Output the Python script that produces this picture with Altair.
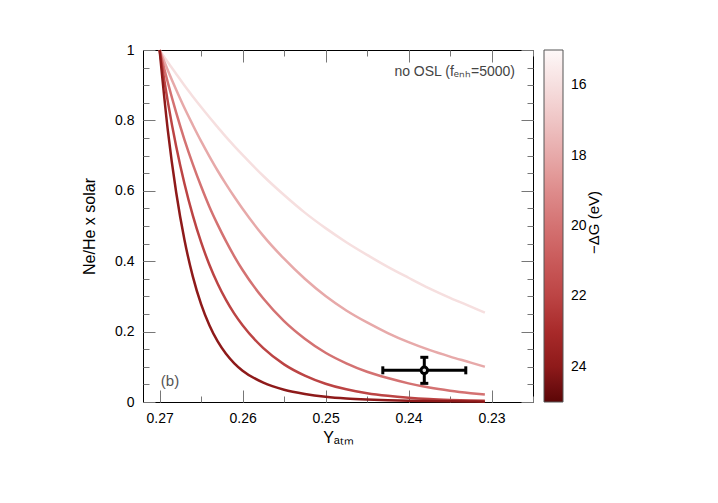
import altair as alt
import pandas as pd

# ---------------- data ----------------
y_atm = [0.2700, 0.2690, 0.2680, 0.2670, 0.2660, 0.2650, 0.2640, 0.2630, 0.2620, 0.2610,
         0.2600, 0.2575, 0.2550, 0.2525, 0.2500, 0.2475, 0.2450, 0.2425, 0.2400, 0.2375,
         0.2350, 0.2325, 0.2308]
minus_dG = [16, 18, 20, 22, 24]
ne_he_16 = [1.000, 0.965, 0.932, 0.899, 0.868, 0.838, 0.809, 0.781, 0.753, 0.727, 0.702,
            0.642, 0.588, 0.538, 0.494, 0.454, 0.418, 0.384, 0.353, 0.323, 0.296, 0.271, 0.254]
ne_he_18 = [1.000, 0.942, 0.887, 0.835, 0.787, 0.741, 0.698, 0.657, 0.619, 0.583, 0.549,
            0.472, 0.407, 0.350, 0.301, 0.260, 0.226, 0.196, 0.170, 0.148, 0.129, 0.112, 0.100]
ne_he_20 = [1.000, 0.907, 0.822, 0.745, 0.676, 0.613, 0.555, 0.504, 0.457, 0.414, 0.375,
            0.294, 0.230, 0.180, 0.140, 0.110, 0.086, 0.068, 0.053, 0.041, 0.032, 0.025, 0.021]
ne_he_22 = [1.000, 0.852, 0.726, 0.620, 0.530, 0.454, 0.390, 0.336, 0.290, 0.251, 0.218,
            0.153, 0.107, 0.075, 0.052, 0.036, 0.025, 0.0175, 0.0122, 0.0085, 0.006, 0.0042, 0.0033]
ne_he_24 = [1.000, 0.770, 0.595, 0.460, 0.357, 0.278, 0.218, 0.172, 0.137, 0.110, 0.089,
            0.055, 0.035, 0.023, 0.015, 0.010, 0.007, 0.005, 0.0035, 0.0025, 0.0018, 0.0013, 0.001]

obs_y_atm = [0.2381]
obs_y_err = [0.0050]
obs_ratio = [0.090]
obs_ratio_err = [0.037]

x_major = [0.23, 0.24, 0.25, 0.26, 0.27]
x_minor = [0.225, 0.23, 0.235, 0.24, 0.245, 0.25, 0.255, 0.26, 0.265, 0.27]
y_major = [0, 0.2, 0.4, 0.6, 0.8, 1.0]
y_minor = [round(0.05 * i, 2) for i in range(21)]

cbar_stops = [-25, -24, -23, -22, -21, -20, -19, -18, -17, -16, -15]
cbar_colors = ["#5c0606", "#8e1a1a", "#a82a2a", "#bc4444", "#c95a5a", "#d47272",
               "#de8c8c", "#e7a9a9", "#efc5c5", "#f6dfdf", "#fdf8f8"]

# ---------------- tables ----------------
series = [ne_he_16, ne_he_18, ne_he_20, ne_he_22, ne_he_24]
rows = []
for g, vals in zip(minus_dG, series):
    for xv, yv in zip(y_atm, vals):
        rows.append({"Y": xv, "R": yv, "dG": -g})
curves_df = pd.DataFrame(rows)

err_df = pd.DataFrame({
    "x": obs_y_atm, "y": obs_ratio,
    "xlo": [a - b for a, b in zip(obs_y_atm, obs_y_err)],
    "xhi": [a + b for a, b in zip(obs_y_atm, obs_y_err)],
    "ylo": [a - b for a, b in zip(obs_ratio, obs_ratio_err)],
    "yhi": [a + b for a, b in zip(obs_ratio, obs_ratio_err)],
})
capx_df = pd.DataFrame({"x": [err_df.xlo[0], err_df.xhi[0]], "y": [obs_ratio[0]] * 2})
capy_df = pd.DataFrame({"x": [obs_y_atm[0]] * 2, "y": [err_df.ylo[0], err_df.yhi[0]]})

notes_df = pd.DataFrame({"x": [0.22717], "y": [0.9375], "t": ["no OSL (fₑₙₕ=5000)"]})
panel_df = pd.DataFrame({"x": [0.26875], "y": [0.06], "t": ["(b)"]})

# ---------------- chart ----------------
W, H = 390, 352
XS = alt.Scale(domain=[0.272, 0.225], nice=False, zero=False)
YS = alt.Scale(domain=[0, 1], nice=False, zero=False)
TICK = "#777777"


def tick_axis(orient, values, size):
    off = -H if orient in ("top", "bottom") else -W
    return alt.Axis(orient=orient, offset=off, values=values, tickSize=size,
                    labels=False, domain=False, title=None, tickColor=TICK,
                    tickWidth=1, grid=False)


x_main = alt.Axis(orient="bottom", values=x_major, format=".2f", labelFontSize=14,
                  labelColor="black", ticks=False, domain=False, labelPadding=9,
                  title="Yₐₜₘ", titleFontSize=16, titleFontWeight="normal",
                  titleColor="black", titlePadding=4, grid=False)
y_main = alt.Axis(orient="left", values=y_major, format="~g", labelFontSize=14,
                  labelColor="black", ticks=False, domain=False, labelPadding=9,
                  title="Ne/He x solar", titleFontSize=16, titleFontWeight="normal",
                  titleColor="black", titlePadding=17, grid=False)
# colour-bar title, carried by a label-less right-hand axis
cbar_title_axis = alt.Axis(orient="right", offset=0, labels=False, ticks=False,
                           domain=False, grid=False, title="−ΔG (eV)",
                           titleAngle=270, titleX=60, titleY=172, titleAlign="center",
                           titleBaseline="middle", titleFontSize=15,
                           titleFontWeight="normal", titleColor="black")

legend = alt.Legend(orient="none", legendX=401, legendY=0, direction="vertical",
                    gradientLength=H, gradientThickness=19, values=[-16, -18, -20, -22, -24],
                    labelExpr="-datum.value", labelFontSize=14, labelColor="black",
                    labelOffset=8, labelOverlap=False, title=None, padding=0,
                    gradientStrokeColor="#555555", gradientStrokeWidth=1)

curves = alt.Chart(curves_df).mark_line(strokeWidth=2.5, interpolate="monotone").encode(
    x=alt.X("Y:Q", scale=XS, axis=x_main),
    y=alt.Y("R:Q", scale=YS, axis=y_main),
    color=alt.Color("dG:Q", scale=alt.Scale(domain=cbar_stops, range=cbar_colors),
                    legend=legend),
    detail="dG:N",
    order=alt.Order("Y:Q", sort="descending"),
)

errx = alt.Chart(err_df).mark_rule(strokeWidth=3, color="black").encode(
    x=alt.X("xlo:Q", scale=XS, axis=tick_axis("top", x_major, 12)),
    x2="xhi:Q",
    y=alt.Y("y:Q", scale=YS, axis=tick_axis("right", y_major, 12)),
)
erry = alt.Chart(err_df).mark_rule(strokeWidth=3, color="black").encode(
    x=alt.X("x:Q", scale=XS, axis=tick_axis("bottom", x_major, 12)),
    y=alt.Y("ylo:Q", scale=YS, axis=tick_axis("left", y_major, 12)),
    y2="yhi:Q",
)
capx = alt.Chart(capx_df).mark_tick(orient="vertical", size=8, thickness=3,
                                    color="black", opacity=1).encode(
    x=alt.X("x:Q", scale=XS, axis=tick_axis("top", x_minor, 6)),
    y=alt.Y("y:Q", scale=YS, axis=tick_axis("right", y_minor, 6)),
)
capy = alt.Chart(capy_df).mark_tick(orient="horizontal", size=8, thickness=3,
                                    color="black", opacity=1).encode(
    x=alt.X("x:Q", scale=XS, axis=tick_axis("bottom", x_minor, 6)),
    y=alt.Y("y:Q", scale=YS, axis=tick_axis("left", y_minor, 6)),
)
point = alt.Chart(err_df).mark_point(filled=False, size=42, strokeWidth=3,
                                     color="black", fill="#dddddd", fillOpacity=1,
                                     opacity=1).encode(
    x=alt.X("x:Q", scale=XS, axis=None),
    y=alt.Y("y:Q", scale=YS, axis=cbar_title_axis),
)
notes = alt.Chart(notes_df).mark_text(align="right", baseline="middle", fontSize=14,
                                      color="#444444").encode(
    x=alt.X("x:Q", scale=XS, axis=None),
    y=alt.Y("y:Q", scale=YS, axis=None),
    text="t:N",
)
panel = alt.Chart(panel_df).mark_text(align="center", baseline="middle", fontSize=15,
                                      color="#555555").encode(
    x=alt.X("x:Q", scale=XS, axis=None),
    y=alt.Y("y:Q", scale=YS, axis=None),
    text="t:N",
)

chart = alt.layer(curves, errx, erry, capx, capy, point, notes, panel).resolve_axis(
    x="independent", y="independent"
).properties(
    width=W, height=H,
    autosize=alt.AutoSizeParams(type="none"),
    padding={"left": 135, "top": 42, "right": 170, "bottom": 93},
).configure(font="Liberation Sans").configure_view(stroke="black", strokeWidth=1)

chart.save("out.html", embed_options={"renderer": "svg", "actions": False})
